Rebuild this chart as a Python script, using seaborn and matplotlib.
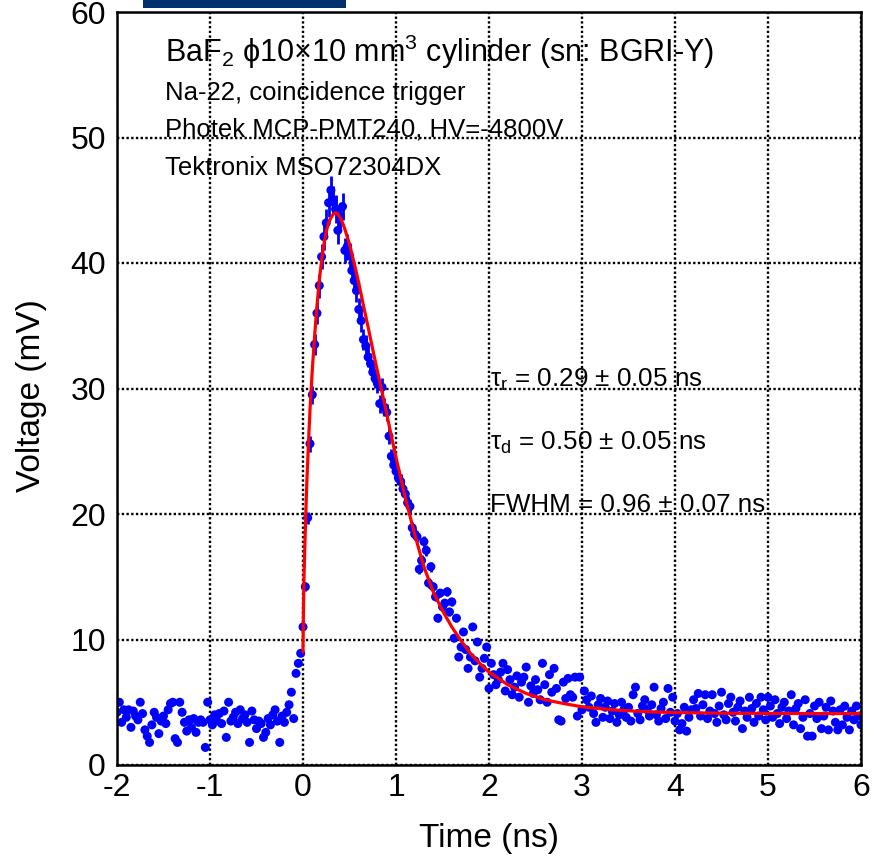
import numpy as np
import pandas as pd
import matplotlib
matplotlib.use("Agg")
import matplotlib.pyplot as plt
from matplotlib.patches import Rectangle
from matplotlib.ticker import MultipleLocator
import seaborn as sns

# ---------------- data ----------------
T_START = -2.0
T_STEP = 0.025
VOLTAGE = [
    4.2, 5.0, 3.4, 4.4, 3.8, 4.4, 3.0, 4.3, 3.9, 3.6,
    5.0, 4.1, 2.8, 2.3, 1.8, 3.2, 4.2, 3.8, 2.5, 3.5,
    3.9, 3.3, 4.4, 4.9, 5.0, 2.1, 1.8, 5.0, 4.2, 3.4,
    2.7, 3.6, 3.0, 3.7, 2.6, 3.4, 3.6, 3.4, 1.4, 5.0,
    3.6, 3.2, 4.0, 3.5, 4.1, 3.3, 4.3, 2.2, 5.0, 3.5,
    3.8, 4.2, 3.3, 4.4, 3.7, 4.0, 3.4, 1.8, 4.3, 3.6,
    2.9, 3.5, 3.3, 2.2, 2.6, 3.7, 3.2, 4.0, 4.4, 3.5,
    1.8, 3.9, 3.4, 4.2, 4.8, 5.8, 3.7, 7.3, 8.1, 8.9,
    11.0, 14.2, 19.7, 25.6, 29.5, 33.5, 36.0, 38.2, 40.5, 42.1,
    43.2, 44.8, 45.8, 45.0, 44.3, 42.6, 43.7, 44.5, 41.0, 41.3,
    40.6, 39.4, 38.6, 37.8, 36.3, 35.4, 33.9, 33.4, 32.5, 32.0,
    31.3, 30.8, 30.4, 28.8, 30.1, 28.5, 28.1, 26.2, 24.6, 23.9,
    23.4, 22.9, 22.6, 22.0, 21.6, 20.9, 20.6, 18.9, 18.4, 18.2,
    15.6, 16.3, 17.8, 17.1, 14.5, 15.8, 14.2, 13.4, 11.7, 13.7,
    12.6, 12.9, 13.8, 12.2, 13.0, 10.1, 11.7, 8.6, 9.4, 10.6,
    9.2, 7.7, 8.6, 11.0, 8.3, 9.8, 7.0, 7.7, 8.5, 9.4,
    6.1, 8.1, 7.2, 6.4, 6.8, 7.4, 8.1, 5.9, 7.6, 6.8,
    5.6, 6.2, 7.1, 5.4, 6.6, 7.0, 7.8, 5.0, 6.3, 5.7,
    6.8, 6.0, 5.2, 8.1, 6.4, 5.0, 7.2, 5.8, 7.7, 6.1,
    3.6, 3.5, 6.6, 5.3, 6.9, 5.6, 5.4, 7.0, 3.9, 7.0,
    4.4, 5.9, 5.2, 4.6, 5.5, 4.1, 3.4, 4.8, 5.3, 3.8,
    4.6, 5.1, 3.7, 4.3, 4.9, 3.4, 4.0, 5.0, 4.4, 3.8,
    4.6, 3.5, 5.6, 6.2, 4.1, 3.6, 4.7, 5.2, 4.4, 3.9,
    4.8, 6.2, 4.0, 3.5, 4.5, 5.0, 3.7, 6.1, 4.2, 5.4,
    3.5, 4.1, 2.8, 3.3, 4.6, 2.7, 3.8, 4.4, 5.2, 4.5,
    5.7, 3.9, 4.8, 5.6, 3.7, 4.3, 5.6, 4.1, 3.4, 4.7,
    5.8, 4.0, 3.6, 4.9, 5.4, 4.2, 3.5, 4.6, 5.1, 2.9,
    4.3, 3.8, 5.4, 4.5, 3.4, 4.9, 3.9, 5.4, 4.4, 3.6,
    5.4, 4.7, 3.8, 5.2, 4.1, 3.3, 4.6, 5.0, 3.7, 4.3,
    5.6, 3.2, 4.5, 4.9, 2.9, 3.8, 5.2, 2.3, 4.1, 2.3,
    4.7, 3.7, 5.0, 2.9, 3.9, 4.6, 2.8, 5.1, 4.3, 3.4,
    2.8, 4.4, 3.2, 4.7, 3.8, 2.8, 4.3, 3.6, 4.7, 3.9,
    3.2,
]
REL_ERR = 0.025  # relative error bar half-length read from the peak

FIT_T = [0.0, 0.005, 0.01, 0.02, 0.03, 0.04, 0.055, 0.075, 0.1, 0.125,
         0.15, 0.175, 0.2, 0.225, 0.25, 0.275, 0.3, 0.325, 0.35, 0.375,
         0.4, 0.425, 0.45, 0.5, 0.55, 0.6, 0.65, 0.7, 0.75, 0.8,
         0.85, 0.9, 0.95, 1.0, 1.1, 1.2, 1.3, 1.4, 1.5, 1.6,
         1.7, 1.8, 1.9, 2.0, 2.2, 2.4, 2.6, 2.8, 3.0, 3.2,
         3.4, 3.6, 3.8, 4.0, 4.5, 5.0, 5.5, 6.0]
FIT_V = [9.0, 12.5, 14.7, 17.5, 20.0, 22.3, 25.0, 28.3, 31.5, 34.2,
         36.6, 38.6, 40.2, 41.5, 42.5, 43.2, 43.6, 43.9, 44.0, 43.9,
         43.6, 43.2, 42.7, 41.5, 40.0, 38.4, 36.6, 34.9, 33.1, 31.4,
         29.7, 28.0, 26.2, 24.5, 21.3, 18.4, 15.8, 13.8, 12.3, 11.0,
         9.9, 8.9, 8.1, 7.4, 6.4, 5.7, 5.2, 4.9, 4.64, 4.48,
         4.36, 4.28, 4.22, 4.18, 4.13, 4.11, 4.10, 4.10]

X_TICKS = [-2, -1, 0, 1, 2, 3, 4, 5, 6]
Y_TICKS = [0, 10, 20, 30, 40, 50, 60]

TITLE_LINES = ["BaF$_{2}$ \u03d510\u00d710 mm$^{3}$ cylinder (sn: BGRI-Y)",
               "Na-22, coincidence trigger",
               "Photek MCP-PMT240, HV=-4800V",
               "Tektronix MSO72304DX"]
FIT_LINES = ["\u03c4$_{r}$ = 0.29 \u00b1 0.05 ns",
             "\u03c4$_{d}$ = 0.50 \u00b1 0.05 ns",
             "FWHM = 0.96 \u00b1 0.07 ns"]

# ---------------- style ----------------
sns.set_style("white")
plt.rcParams["font.family"] = ["Liberation Sans", "DejaVu Sans"]
plt.rcParams["mathtext.fontset"] = "custom"
plt.rcParams["mathtext.rm"] = "Liberation Sans"
plt.rcParams["mathtext.it"] = "Liberation Sans"
plt.rcParams["mathtext.default"] = "regular"
plt.rcParams["text.color"] = "black"
plt.rcParams["axes.labelcolor"] = "black"
plt.rcParams["xtick.color"] = "black"
plt.rcParams["ytick.color"] = "black"

n = len(VOLTAGE)
t = T_START + T_STEP * np.arange(n)
df = pd.DataFrame({"t": t, "v": VOLTAGE})
df["err"] = df["v"] * REL_ERR
fit = pd.DataFrame({"t": FIT_T, "v": FIT_V})

W, H = 874, 865
fig = plt.figure(figsize=(W / 100, H / 100), dpi=100)
ax = fig.add_axes([117 / W, (H - 765) / H, 744 / W, 753 / H])

# grid (drawn above the texts)
ax.set_axisbelow(False)
ax.grid(True, which="major", color="black", linestyle=(0, (1, 1)), linewidth=1.7, zorder=2)

ax.errorbar(df["t"], df["v"], yerr=df["err"], fmt="none", ecolor="blue",
            elinewidth=2.0, capsize=0, zorder=3)
sns.scatterplot(data=df, x="t", y="v", ax=ax, color="blue", s=42,
                linewidth=0, edgecolor="none", zorder=4)
sns.lineplot(data=fit, x="t", y="v", ax=ax, color="red", linewidth=2.3,
             sort=False, estimator=None, zorder=5)

ax.set_xlim(-2, 6)
ax.set_ylim(0, 60)
ax.set_xticks(X_TICKS)
ax.set_yticks(Y_TICKS)
ax.set_xticklabels([str(v) for v in X_TICKS])
ax.set_yticklabels([str(v) for v in Y_TICKS])
ax.xaxis.set_minor_locator(MultipleLocator(0.2))
ax.yaxis.set_minor_locator(MultipleLocator(2))
ax.tick_params(axis="both", which="both", direction="in", color="black",
               labelcolor="black", top=False, right=False, labelsize=23, width=1.5)
ax.tick_params(axis="both", which="major", length=14)
ax.tick_params(axis="both", which="minor", length=7)
ax.tick_params(axis="x", which="major", pad=6)
ax.tick_params(axis="y", which="major", pad=8)
for sp in ax.spines.values():
    sp.set_color("black")
    sp.set_linewidth(1.8)
    sp.set_zorder(6)

ax.set_xlabel("Time (ns)", fontsize=24, color="black")
ax.set_ylabel("Voltage (mV)", fontsize=24, color="black")
ax.xaxis.set_label_coords(0.5, -0.077)
ax.yaxis.set_label_coords(-0.094, 0.49)

# annotation texts (under the grid)
ax.text(165 / W, 1 - 62 / H, TITLE_LINES[0], transform=fig.transFigure,
        fontsize=22, va="baseline", ha="left", zorder=1, color="black")
for line, yb in zip(TITLE_LINES[1:], [100, 137, 175]):
    ax.text(165 / W, 1 - yb / H, line, transform=fig.transFigure,
            fontsize=18.5, va="baseline", ha="left", zorder=1, color="black")
for line, yb in zip(FIT_LINES, [387, 450, 512]):
    ax.text(490 / W, 1 - yb / H, line, transform=fig.transFigure,
            fontsize=18.7, va="baseline", ha="left", zorder=1, color="black")

# dark banner fragment at the top edge
fig.patches.append(Rectangle((143 / W, 1 - 8 / H), 203 / W, 8 / H,
                             transform=fig.transFigure, facecolor="#00306e",
                             edgecolor="none", zorder=10))

fig.savefig("out.png", dpi=100)
